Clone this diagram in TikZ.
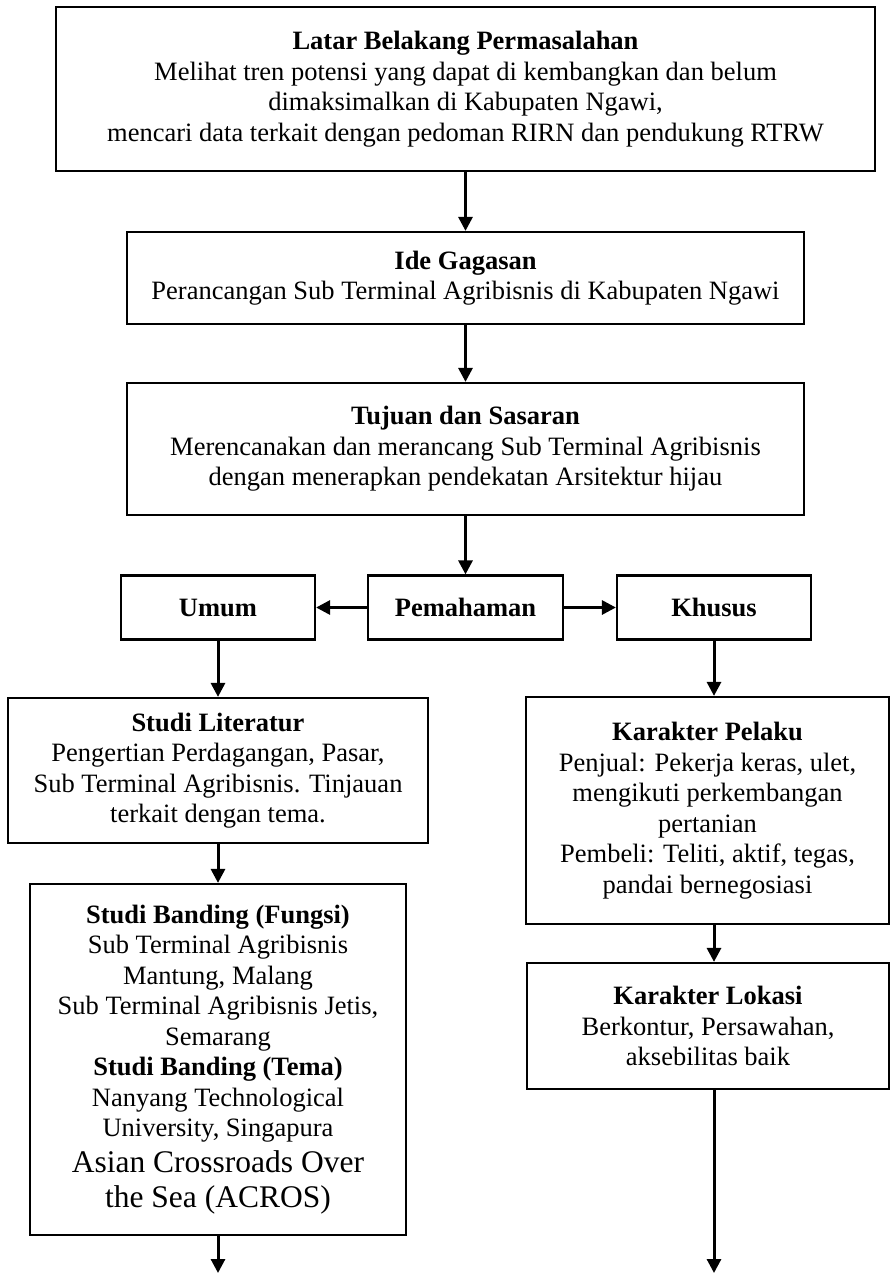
\documentclass[tikz,border=0pt]{standalone}
\usepackage{fontspec}
\setmainfont{Liberation Serif}
\usetikzlibrary{arrows.meta}
\newcommand{\boxfont}{\fontsize{26.5}{30.5}\selectfont}
\newcommand{\bigfont}{\fontsize{31.5}{36}\selectfont}
\tikzset{
  flowbox/.style={draw, line width=2.2pt, inner sep=0pt, align=center, font=\boxfont, rectangle},
  flowarrow/.style={line width=3pt, -{Triangle[length=14pt,width=14pt]}},
}
\begin{document}
\begin{tikzpicture}[x=1pt,y=1pt]
\useasboundingbox (0,0) rectangle (891,-1273);
% boxes: center x = (l+r)/2, center y = -(t+b)/2
\node[flowbox, minimum width=819pt, minimum height=164pt] (latar) at (465.5,-89)
  {\textbf{Latar Belakang Permasalahan}\\Melihat tren potensi yang dapat di kembangkan dan belum\\dimaksimalkan di Kabupaten Ngawi,\\mencari data terkait dengan pedoman RIRN dan pendukung RTRW};
\node[flowbox, minimum width=677pt, minimum height=92pt] (ide) at (465.5,-278)
  {\textbf{Ide Gagasan}\\Perancangan Sub Terminal Agribisnis di Kabupaten Ngawi};
\node[flowbox, minimum width=677pt, minimum height=132pt] (tujuan) at (465.5,-449)
  {\textbf{Tujuan dan Sasaran}\\Merencanakan dan merancang Sub Terminal Agribisnis\\dengan menerapkan pendekatan Arsitektur hijau};
\node[flowbox, minimum width=195pt, minimum height=64pt] (pem) at (465.5,-607.5)
  {\textbf{Pemahaman}};
\node[flowbox, minimum width=194pt, minimum height=64pt] (umum) at (218,-607.5)
  {\textbf{Umum}};
\node[flowbox, minimum width=194pt, minimum height=64pt] (khusus) at (714,-607.5)
  {\textbf{Khusus}};
\node[flowbox, minimum width=420pt, minimum height=145pt] (lit) at (218,-770.5)
  {\textbf{Studi Literatur}\\Pengertian Perdagangan, Pasar,\\Sub Terminal Agribisnis. Tinjauan\\terkait dengan tema.};
\node[flowbox, minimum width=376pt, minimum height=351pt] (banding) at (218,-1059.5)
  {\textbf{Studi Banding (Fungsi)}\\Sub Terminal Agribisnis\\Mantung, Malang\\Sub Terminal Agribisnis Jetis,\\Semarang\\\textbf{Studi Banding (Tema)}\\Nanyang Technological\\University, Singapura\\[5pt]{\bigfont Asian Crossroads Over}\\[5pt]{\bigfont the Sea (ACROS)}};
\node[flowbox, minimum width=363pt, minimum height=227pt] (pelaku) at (707.5,-810.5)
  {\textbf{Karakter Pelaku}\\Penjual: Pekerja keras, ulet,\\mengikuti perkembangan\\pertanian\\Pembeli: Teliti, aktif, tegas,\\pandai bernegosiasi};
\node[flowbox, minimum width=362pt, minimum height=126pt] (lokasi) at (708,-1026)
  {\textbf{Karakter Lokasi}\\Berkontur, Persawahan,\\aksebilitas baik};
\coordinate (endl) at (218,-1273);
\coordinate (endr) at (714,-1273);
% connectors
\draw[flowarrow] (latar.south) -- (ide.north);
\draw[flowarrow] (ide.south) -- (tujuan.north);
\draw[flowarrow] (tujuan.south) -- (pem.north);
\draw[flowarrow] (pem.west) -- (umum.east);
\draw[flowarrow] (pem.east) -- (khusus.west);
\draw[flowarrow] (umum.south) -- (lit.north);
\draw[flowarrow] (lit.south) -- (banding.north);
\draw[flowarrow] (khusus.south) -- (khusus.south |- pelaku.north);
\draw[flowarrow] (khusus.south |- pelaku.south) -- (khusus.south |- lokasi.north);
\draw[flowarrow] (banding.south) -- (endl);
\draw[flowarrow] (endr |- lokasi.south) -- (endr);
\end{tikzpicture}
\end{document}
